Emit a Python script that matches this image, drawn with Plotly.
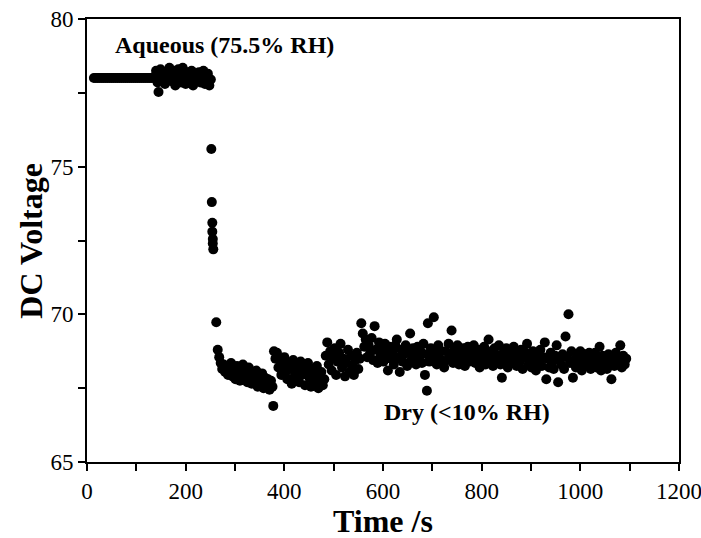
import plotly.graph_objects as go

# ---- data (time in s, DC voltage) ----
# Regularly sampled segments: (start time, sampling interval, values)
flat_start, flat_step = 14, 4
flat_v = [78.0, 78.0, 78.0, 78.0, 78.0, 78.0, 78.0, 78.0, 78.0, 78.0,
          78.0, 78.0, 78.0, 78.0, 78.0, 78.0, 78.0, 78.0, 78.0, 78.0,
          78.0, 78.0, 78.0, 78.0, 78.0, 78.0, 78.0, 78.0, 78.0, 78.0,
          78.0]

aq_start, aq_step = 137, 3
aq_v = [78.05, 78.25, 77.85, 78.10, 78.30, 77.95, 78.15, 77.80, 78.20, 78.00,
        78.35, 77.90, 78.10, 78.25, 77.75, 78.05, 78.30, 78.15, 77.85, 78.35,
        78.00, 77.80, 78.20, 78.10, 77.95, 78.25, 77.75, 78.15, 78.05, 77.90,
        78.20, 77.85, 78.10, 78.25, 77.80, 78.00, 78.15, 77.75, 77.95]

d1_start, d1_step = 265, 3
d1_v = [68.80, 68.55, 68.35, 68.15, 68.30, 68.05, 68.25, 67.95, 68.20, 68.35,
        67.90, 68.10, 67.80, 68.25, 68.00, 67.75, 68.15, 68.30, 67.85, 68.05,
        67.70, 68.20, 67.95, 67.65, 68.05, 67.80, 68.10, 67.55, 67.90, 67.70,
        68.00, 67.50, 67.85, 67.60, 67.80, 67.45, 67.75, 67.55]

d2_start, d2_step = 379, 3
d2_v = [68.75, 68.50, 68.70, 68.20, 68.45, 67.95, 68.30, 68.55, 68.05, 67.80,
        68.35, 68.15, 67.65, 68.45, 67.90, 68.25, 68.05, 67.70, 68.40, 67.95,
        68.20, 67.60, 68.10, 68.35, 67.85, 67.55, 68.15, 67.95, 67.70, 68.25,
        67.50, 67.90, 68.05, 67.60, 67.80]

d3_start, d3_step = 484, 3
d3_v = [68.60, 69.05, 68.30, 68.75, 68.10, 68.55, 68.85, 67.95, 68.40, 68.70,
        69.00, 68.20, 68.50, 67.90, 68.35, 68.80, 68.05, 68.60, 68.25, 67.95,
        68.45, 68.70, 68.15, 68.50]

d4_start, d4_step = 556, 3
d4_v = [69.70, 69.35, 68.90, 69.15, 68.55, 68.95, 68.70, 69.20, 68.45, 69.60,
        68.80, 68.35, 69.05, 68.60, 68.85, 68.40, 69.00, 68.65, 68.10, 68.90,
        68.50, 68.75, 68.30, 68.95, 69.15, 68.55, 68.05, 68.80, 68.40, 68.65,
        68.95, 68.25, 68.70, 69.35, 68.45, 68.85, 68.60, 68.30, 68.90, 68.50,
        68.75, 68.35, 69.00, 67.95, 68.65, 69.70, 68.40, 68.85, 68.55, 69.90,
        68.70, 68.30, 68.95, 68.50, 68.75, 68.40]

d5_start, d5_step = 724, 3
d5_v = [68.20, 68.75, 68.45, 69.00, 68.60, 69.45, 68.35, 68.80, 68.55, 68.95,
        68.30, 68.70, 68.50, 68.85, 68.25, 68.65, 68.90, 68.40, 68.75, 68.55,
        68.95, 68.35, 68.60, 68.80, 68.20, 68.70, 68.45, 68.90, 68.30, 68.65,
        69.15, 68.50, 68.75, 68.25, 68.85, 68.40, 68.60, 68.95, 68.30, 67.85,
        68.70, 68.45, 68.85, 68.20, 68.55, 68.75, 68.35, 68.90, 68.50, 68.25,
        68.65, 68.40, 68.80, 68.15, 68.55, 68.70, 69.00, 68.30, 68.60, 68.20,
        68.75, 68.45, 68.10, 68.65, 68.35, 68.80, 68.25, 68.55, 69.05, 67.80,
        68.50, 68.20, 68.70, 68.40, 68.15, 68.60, 68.95, 67.70, 68.45, 68.30,
        68.65, 68.15, 69.25, 68.55, 70.00, 68.35, 68.75, 67.85, 68.45, 68.20,
        68.60, 68.30, 68.75, 68.10, 68.50, 68.65, 68.25, 68.40, 68.70, 68.15,
        68.55, 68.35, 68.70, 68.20, 68.45, 68.90, 68.10, 68.60, 68.30, 68.50,
        68.15, 68.65, 68.40, 67.80, 68.55, 68.25, 68.70, 68.35, 68.45, 68.95,
        68.20, 68.60, 68.30, 68.50]

# Irregular points (fast sampling during the humidity switch, isolated outliers)
extra_t = [145, 252, 253, 254, 254, 255, 255, 256, 262, 377.6, 689]
extra_v = [77.53, 75.6, 73.8, 73.1, 72.8, 72.55, 72.4, 72.2, 69.73, 66.9, 67.41]

x_ticks = [0, 200, 400, 600, 800, 1000, 1200]
y_ticks = [65, 70, 75, 80]

segments = [
    (flat_start, flat_step, flat_v),
    (aq_start, aq_step, aq_v),
    (d1_start, d1_step, d1_v),
    (d2_start, d2_step, d2_v),
    (d3_start, d3_step, d3_v),
    (d4_start, d4_step, d4_v),
    (d5_start, d5_step, d5_v),
]

time_s, voltage = [], []
for start, step, vals in segments:
    for i, v in enumerate(vals):
        time_s.append(start + step * i)
        voltage.append(v)
time_s += extra_t
voltage += extra_v

FONT = "Liberation Serif"

fig = go.Figure()
fig.add_trace(go.Scatter(
    x=time_s, y=voltage, mode="markers",
    marker=dict(color="black", size=10, line=dict(width=0)),
    showlegend=False, hoverinfo="x+y",
))

axis_common = dict(
    showgrid=False, zeroline=False, automargin=False,
    showline=True, linecolor="black", linewidth=2, mirror=True,
    ticks="outside", ticklen=7, tickwidth=2, tickcolor="black",
    tickfont=dict(family=FONT, size=23, color="black"),
    ticklabeloverflow="allow",
)

fig.update_xaxes(
    range=[0, 1200], tickvals=x_ticks, ticktext=[str(v) for v in x_ticks],
    minor=dict(dtick=100, ticks="outside", ticklen=7, tickwidth=2, tickcolor="black"),
    **axis_common,
)
fig.update_yaxes(
    range=[65, 80], tickvals=y_ticks, ticktext=[str(v) for v in y_ticks],
    minor=dict(dtick=2.5, ticks="outside", ticklen=7, tickwidth=2, tickcolor="black"),
    **axis_common,
)

# axis titles
fig.add_annotation(xref="paper", yref="paper", x=0.5, y=-0.134, text="<b>Time /s</b>",
                   showarrow=False, xanchor="center", yanchor="middle",
                   font=dict(family=FONT, size=32, color="black"))
fig.add_annotation(xref="paper", yref="paper", x=-0.096, y=0.5, text="<b>DC Voltage</b>",
                   showarrow=False, xanchor="center", yanchor="middle", textangle=-90,
                   font=dict(family=FONT, size=32, color="black"))

# in-plot labels
fig.add_annotation(x=278, y=79.12, text="<b>Aqueous (75.5% RH)</b>", showarrow=False,
                   font=dict(family=FONT, size=24, color="black"))
fig.add_annotation(x=771, y=66.69, text="<b>Dry (&lt;10% RH)</b>", showarrow=False,
                   font=dict(family=FONT, size=24, color="black"))

fig.update_layout(
    width=701, height=538,
    margin=dict(l=87, r=22, t=19, b=76, autoexpand=False),
    paper_bgcolor="white", plot_bgcolor="white",
)

# remove the default page margin so the figure sits at the window origin
fig.write_html("out.html",
               config={"displayModeBar": False},
               post_script="document.body.style.margin='0';document.body.style.overflow='hidden';")
